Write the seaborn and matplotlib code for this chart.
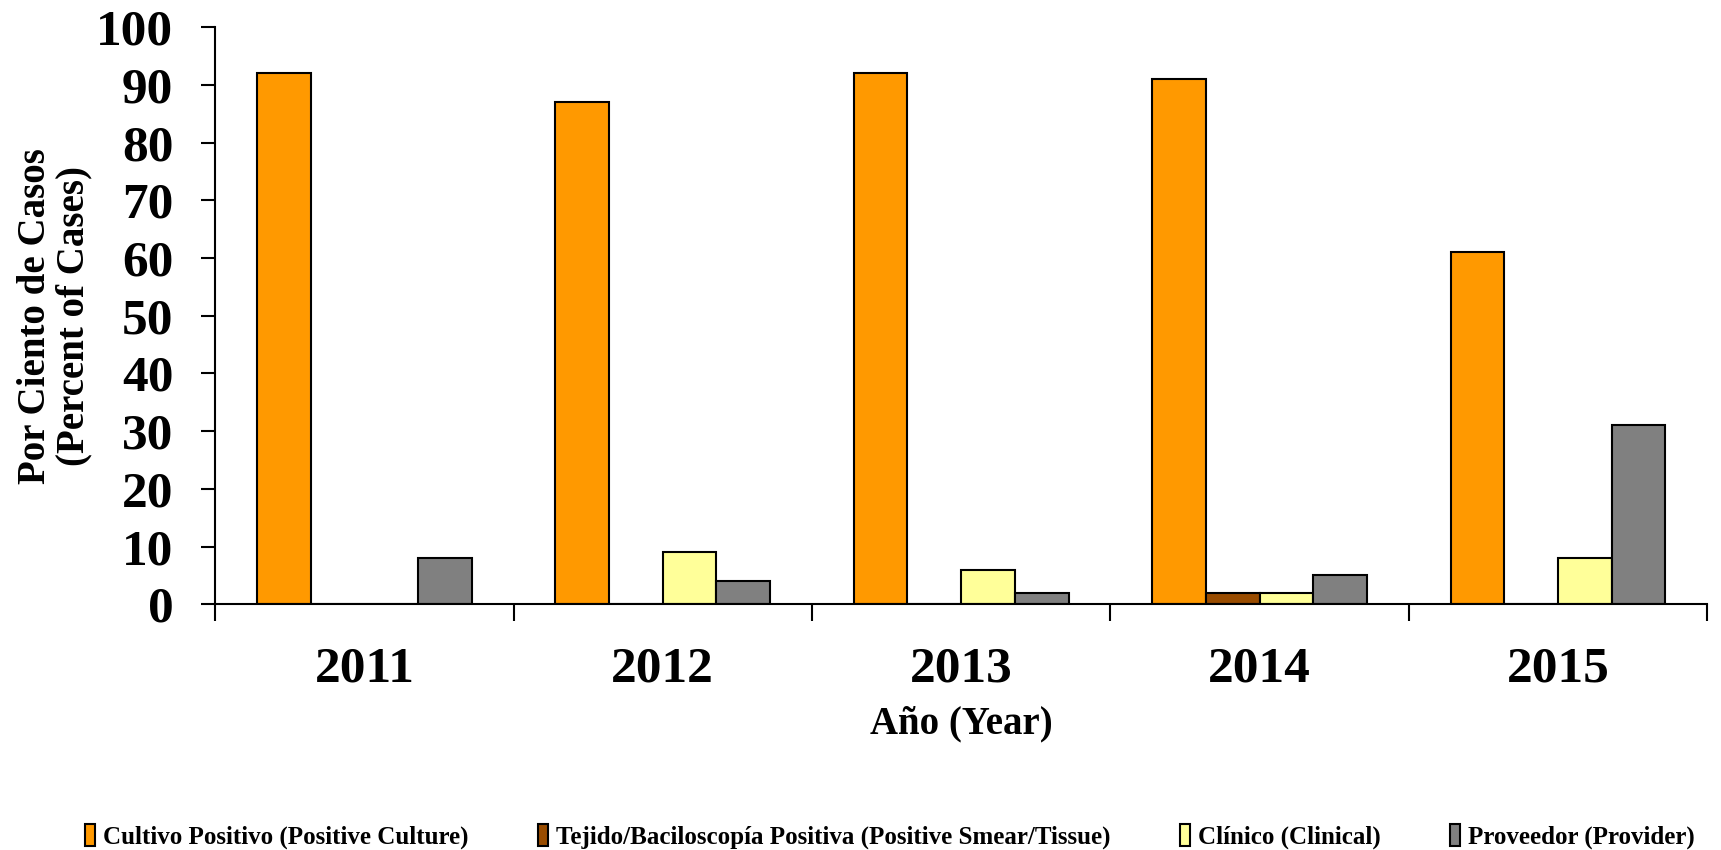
"""Grouped bar chart: case verification method by year."""

import matplotlib

matplotlib.use("Agg")

import matplotlib.pyplot as plt
import pandas as pd
import seaborn as sns
from matplotlib.ticker import FixedLocator, MultipleLocator

YEARS = ["2011", "2012", "2013", "2014", "2015"]
SERIES = [
    "Cultivo Positivo (Positive Culture)",
    "Tejido/Baciloscopía Positiva (Positive Smear/Tissue)",
    "Clínico (Clinical)",
    "Proveedor (Provider)",
]
CULTURE = [92, 87, 92, 91, 61]
SMEAR = [0, 0, 0, 2, 0]
CLINICAL = [0, 9, 6, 2, 8]
PROVIDER = [8, 4, 2, 5, 31]
COLORS = ["#FF9900", "#994C00", "#FFFF99", "#808080"]


def build_frame() -> pd.DataFrame:
    rows = []
    for name, values in zip(SERIES, [CULTURE, SMEAR, CLINICAL, PROVIDER]):
        for year, value in zip(YEARS, values):
            rows.append({"year": year, "series": name, "percent": value})
    return pd.DataFrame(rows)


def main() -> None:
    df = build_frame()
    sns.set_theme(style="white")
    plt.rcParams["font.family"] = ["Liberation Serif", "DejaVu Serif"]
    plt.rcParams["font.weight"] = "bold"
    plt.rcParams["text.color"] = "black"
    plt.rcParams["axes.labelcolor"] = "black"
    plt.rcParams["xtick.color"] = "black"
    plt.rcParams["ytick.color"] = "black"

    fig, ax = plt.subplots(figsize=(17.21, 8.5), dpi=100)
    fig.subplots_adjust(left=0.125, right=0.992, top=0.968, bottom=0.289)

    sns.barplot(
        data=df,
        x="year",
        y="percent",
        hue="series",
        hue_order=SERIES,
        order=YEARS,
        palette=COLORS,
        width=0.72,
        edgecolor="black",
        linewidth=1.5,
        saturation=1,
        ax=ax,
    )

    ax.set_xlim(-0.5, len(YEARS) - 0.5)
    ax.set_ylim(0, 100)
    ax.yaxis.set_major_locator(MultipleLocator(10))
    ax.tick_params(axis="y", labelsize=37, length=10, width=1.5, direction="out", left=True, pad=20)
    for label in ax.get_yticklabels():
        label.set_fontweight("bold")

    # year labels sit between the boundary ticks
    ax.xaxis.set_major_locator(FixedLocator([i - 0.5 for i in range(len(YEARS) + 1)]))
    ax.xaxis.set_minor_locator(FixedLocator(range(len(YEARS))))
    ax.set_xticklabels([""] * (len(YEARS) + 1))
    ax.set_xticklabels(YEARS, minor=True, fontsize=37, fontweight="bold")
    ax.tick_params(axis="x", which="major", length=12, width=1.5, direction="out", bottom=True)
    ax.tick_params(axis="x", which="minor", length=0, pad=30)

    sns.despine(ax=ax)
    for side in ["left", "bottom"]:
        ax.spines[side].set_color("black")
        ax.spines[side].set_linewidth(1.5)

    ax.set_xlabel("Año (Year)", fontsize=28, fontweight="bold", labelpad=10)
    ax.set_ylabel("Por Ciento de Casos\n(Percent of Cases)", fontsize=28, fontweight="bold", labelpad=3, linespacing=1.05)

    handles, labels = ax.get_legend_handles_labels()
    ax.legend_.remove()
    fig.legend(
        handles,
        labels,
        loc="center",
        bbox_to_anchor=(0.517, 0.016),
        ncol=4,
        frameon=False,
        prop={"family": "Liberation Serif", "weight": "bold", "size": 18},
        handlelength=0.4,
        handleheight=1.0,
        handletextpad=0.3,
        columnspacing=2.8,
    )

    fig.savefig("out.png", dpi=100)
    plt.close(fig)


if __name__ == "__main__":
    main()
